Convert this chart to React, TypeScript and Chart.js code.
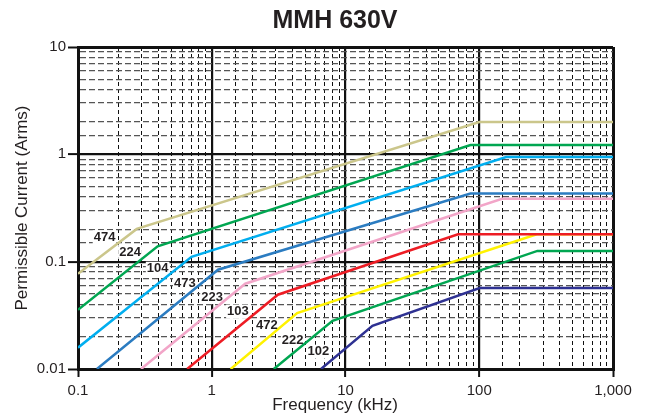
import React, { useEffect, useRef } from 'react';
import { Chart, registerables } from 'chart.js';

Chart.register(...registerables);

// ---- data ----
const seriesCodes = ['474', '224', '104', '473', '223', '103', '472', '222', '102'];
const seriesColors = ['#cbc68b', '#00a651', '#00aeef', '#2b7cc1', '#f2a5c8', '#ed1c24', '#fff200', '#00a651', '#2e3192'];

const freq474 = [0.1, 0.275, 100, 1000];
const amp474 = [0.077, 0.202, 2.0, 2.0];
const freq224 = [0.1, 0.394, 86, 1000];
const amp224 = [0.0356, 0.139, 1.22, 1.22];
const freq104 = [0.1, 0.706, 159, 1000];
const amp104 = [0.0158, 0.111, 0.944, 0.944];
const freq473 = [0.1385, 1.114, 86, 1000];
const amp473 = [0.01, 0.0842, 0.432, 0.432];
const freq223 = [0.296, 1.78, 148, 1000];
const amp223 = [0.01, 0.0623, 0.385, 0.385];
const freq103 = [0.655, 3.12, 69.4, 1000];
const amp103 = [0.01, 0.0492, 0.18, 0.18];
const freq472 = [1.386, 4.35, 269, 1000];
const amp472 = [0.01, 0.0332, 0.18, 0.18];
const freq222 = [2.91, 8.0, 272, 1000];
const amp222 = [0.01, 0.0281, 0.126, 0.126];
const freq102 = [6.56, 15.9, 100.7, 1000];
const amp102 = [0.01, 0.0252, 0.0568, 0.0568];

const seriesFreq = [freq474, freq224, freq104, freq473, freq223, freq103, freq472, freq222, freq102];
const seriesAmp = [amp474, amp224, amp104, amp473, amp223, amp103, amp472, amp222, amp102];

// label anchor points (data coordinates)
const labelFreq = [0.158, 0.245, 0.394, 0.629, 1.005, 1.57, 2.58, 4.03, 6.26];
const labelAmp = [0.1687, 0.1232, 0.086, 0.0623, 0.0468, 0.0343, 0.0252, 0.0184, 0.0145];

const xTickLabels = ['0.1', '1', '10', '100', '1,000'];
const yTickLabels = ['0.01', '0.1', '1', '10'];

const chartTitle = 'MMH 630V';
const xTitle = 'Frequency (kHz)';
const yTitle = 'Permissible Current (Arms)';

const FONT = '"Liberation Sans", Arial, Helvetica, sans-serif';
const TEXT = '#231f20';

const isDecade = (v: number) => {
  const e = Math.log10(v);
  return Math.abs(e - Math.round(e)) < 1e-6;
};

const annotatePlugin = {
  id: 'annotate',
  beforeDatasetsDraw(chart: any) {
    const { ctx, scales } = chart;
    ctx.save();
    ctx.font = `bold 13px ${FONT}`;
    ctx.fillStyle = '#ffffff';
    seriesCodes.forEach((code, i) => {
      const px = scales.x.getPixelForValue(labelFreq[i]);
      const py = scales.y.getPixelForValue(labelAmp[i]);
      const w = ctx.measureText(code).width;
      ctx.fillRect(px - w / 2 - 1, py - 7, w + 2, 14);
    });
    ctx.restore();
  },
  afterDatasetsDraw(chart: any) {
    const { ctx, scales } = chart;
    ctx.save();
    ctx.font = `bold 13px ${FONT}`;
    ctx.fillStyle = TEXT;
    ctx.textAlign = 'center';
    ctx.textBaseline = 'middle';
    seriesCodes.forEach((code, i) => {
      const px = scales.x.getPixelForValue(labelFreq[i]);
      const py = scales.y.getPixelForValue(labelAmp[i]);
      ctx.fillText(code, px, py);
    });
    ctx.restore();
  },
  afterDraw(chart: any) {
    const { ctx } = chart;
    ctx.save();
    ctx.fillStyle = TEXT;
    ctx.textAlign = 'center';
    ctx.textBaseline = 'middle';
    ctx.font = `bold 25px ${FONT}`;
    ctx.fillText(chartTitle, 335, 21);
    ctx.font = `17px ${FONT}`;
    ctx.fillText(xTitle, 335, 405);
    ctx.translate(22, 208);
    ctx.rotate(-Math.PI / 2);
    ctx.fillText(yTitle, 0, 0);
    ctx.restore();
  },
};

export default function App() {
  const ref = useRef<HTMLCanvasElement | null>(null);

  useEffect(() => {
    document.body.style.margin = '0';
    if (!ref.current) return;
    const datasets = seriesCodes.map((code, i) => ({
      label: code,
      data: seriesFreq[i].map((f, j) => ({ x: f, y: seriesAmp[i][j] })),
      borderColor: seriesColors[i],
      backgroundColor: seriesColors[i],
      borderWidth: 2.5,
      pointRadius: 0,
      tension: 0,
      fill: false,
    }));

    const gridFor = (axis: 'x' | 'y') => ({
      drawOnChartArea: true,
      drawTicks: true,
      tickLength: axis === 'y' ? 10 : 8,
      color: (c: any) => {
        const v = c.tick?.value;
        if (v === undefined) return '#000';
        if (isDecade(v)) return '#111';
        return axis === 'y' ? '#555555' : '#111';
      },
      lineWidth: (c: any) => {
        const v = c.tick?.value;
        if (v === undefined) return 1;
        if (isDecade(v)) return c.index === 0 || v === (axis === 'x' ? 1000 : 10) ? 3 : 2.2;
        return axis === 'y' ? 1.3 : 1;
      },
      tickColor: (c: any) => {
        const v = c.tick?.value;
        return v !== undefined && isDecade(v) ? '#111' : 'rgba(0,0,0,0)';
      },
      tickWidth: 2,
    });

    const borderFor = (axis: 'x' | 'y') => ({
      display: true,
      color: '#111',
      width: 3,
      dash: (c: any) => {
        const v = c.tick?.value;
        if (v === undefined || isDecade(v)) return [];
        return axis === 'y' ? [6, 3] : [4, 3];
      },
    });

    const chart = new Chart(ref.current, {
      type: 'line',
      data: { datasets },
      plugins: [annotatePlugin],
      options: {
        animation: false,
        responsive: true,
        maintainAspectRatio: false,
        parsing: true,
        layout: { padding: { top: 47, right: 37, left: 0, bottom: 0 } },
        plugins: {
          legend: { display: false },
          title: { display: false },
          tooltip: { enabled: false },
        },
        scales: {
          x: {
            type: 'logarithmic',
            min: 0.1,
            max: 1000,
            grid: gridFor('x') as any,
            border: borderFor('x') as any,
            afterFit: (s: any) => {
              s.height = 49;
            },
            ticks: {
              autoSkip: false,
              maxRotation: 0,
              padding: 5,
              color: TEXT,
              font: { family: FONT, size: 15 },
              callback: (v: any) => {
                const n = Number(v);
                return isDecade(n) ? xTickLabels[Math.round(Math.log10(n)) + 1] : '';
              },
            },
          },
          y: {
            type: 'logarithmic',
            min: 0.01,
            max: 10,
            grid: gridFor('y') as any,
            border: borderFor('y') as any,
            afterFit: (s: any) => {
              s.width = 78;
            },
            ticks: {
              autoSkip: false,
              padding: 2,
              color: TEXT,
              font: { family: FONT, size: 15 },
              callback: (v: any) => {
                const n = Number(v);
                return isDecade(n) ? yTickLabels[Math.round(Math.log10(n)) + 2] : '';
              },
            },
          },
        },
      },
    });
    return () => chart.destroy();
  }, []);

  return (
    <div style={{ width: 650, height: 418, position: 'relative', background: '#fff' }}>
      <canvas ref={ref} />
    </div>
  );
}
